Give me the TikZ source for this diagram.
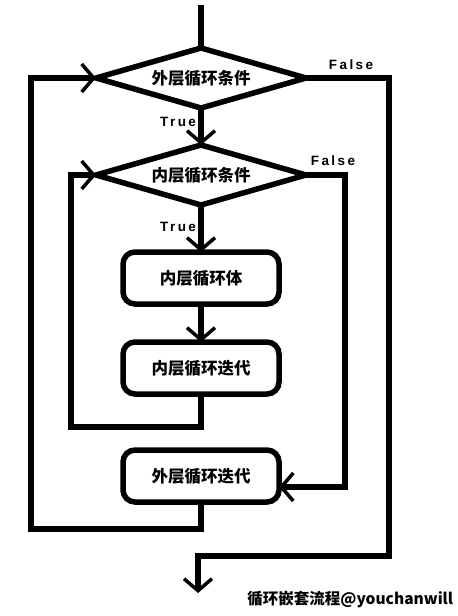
\documentclass[tikz,border=0pt]{standalone}
\usepackage{fontspec}
\usetikzlibrary{arrows.meta,shapes.geometric,positioning}
\newfontfamily\cjk{Noto Sans CJK SC}
\newfontfamily\tagfont[LetterSpace=18]{Liberation Sans}
\tikzset{every node/.style={inner sep=0pt, outer sep=0pt}}
\tikzset{cond/.style={diamond, draw, line width=5.5bp, aspect=3.5, minimum width=210bp, minimum height=60bp, font=\cjk\bfseries\fontsize{16.5bp}{18bp}\selectfont}}
\tikzset{proc/.style={rectangle, rounded corners=12bp, draw, line width=5.5bp, minimum width=156bp, minimum height=52bp, font=\cjk\bfseries\fontsize{16.5bp}{18bp}\selectfont}}
\tikzset{wire/.style={line width=5.5bp}}
\tikzset{flow/.style={line width=5.5bp, -{Straight Barb[length=12bp,width=28bp,line width=3.5bp]}}}
\tikzset{tag/.style={font=\tagfont\bfseries\fontsize{13.5bp}{15bp}\selectfont}}

\begin{document}
\begin{tikzpicture}[x=1bp,y=-1bp]
\useasboundingbox (0,0) rectangle (458,616);
\node[cond] (outer) at (201,78) {外层循环条件};
\node[cond, below=37bp of outer] (inner) {内层循环条件};
\node[proc, below=47bp of inner] (body) {内层循环体};
\node[proc, below=38bp of body] (initer) {内层循环迭代};
\node[proc, below=56bp of initer] (outiter) {外层循环迭代};

\coordinate (start) at (201,5);
\coordinate (iback) at (71,427);
\coordinate (oback) at (31,529);
\coordinate (ifalse) at (345,487);
\coordinate (ofalse) at (389,556);
\coordinate (exit) at (198,593);

\draw[wire] (start) -- (outer.north);
\draw[flow] (outer.south) -- node[tag, pos=0.38, left=5bp] (otrue) {True} (inner.north);
\draw[flow] (inner.south) -- node[tag, pos=0.47, left=5bp] (itrue) {True} (body.north);
\draw[flow] (body.south) -- (initer.north);
\draw[flow] (initer.south) |- (iback) |- (inner.west);
\draw[flow] (outiter.south) |- (oback) |- (outer.west);
\draw[flow] (inner.east) -| (ifalse) -- (outiter.east |- ifalse);
\draw[flow] (outer.east) -| (ofalse) -| (exit);

\node[tag] (ofalselbl) at (351,65) {False};
\node[tag] (ifalselbl) at (333,161) {False};
\node[font=\cjk\bfseries\fontsize{15.5bp}{17bp}\selectfont, anchor=east] (caption) at (453,600) {循环嵌套流程@youchanwill};
\end{tikzpicture}
\end{document}
